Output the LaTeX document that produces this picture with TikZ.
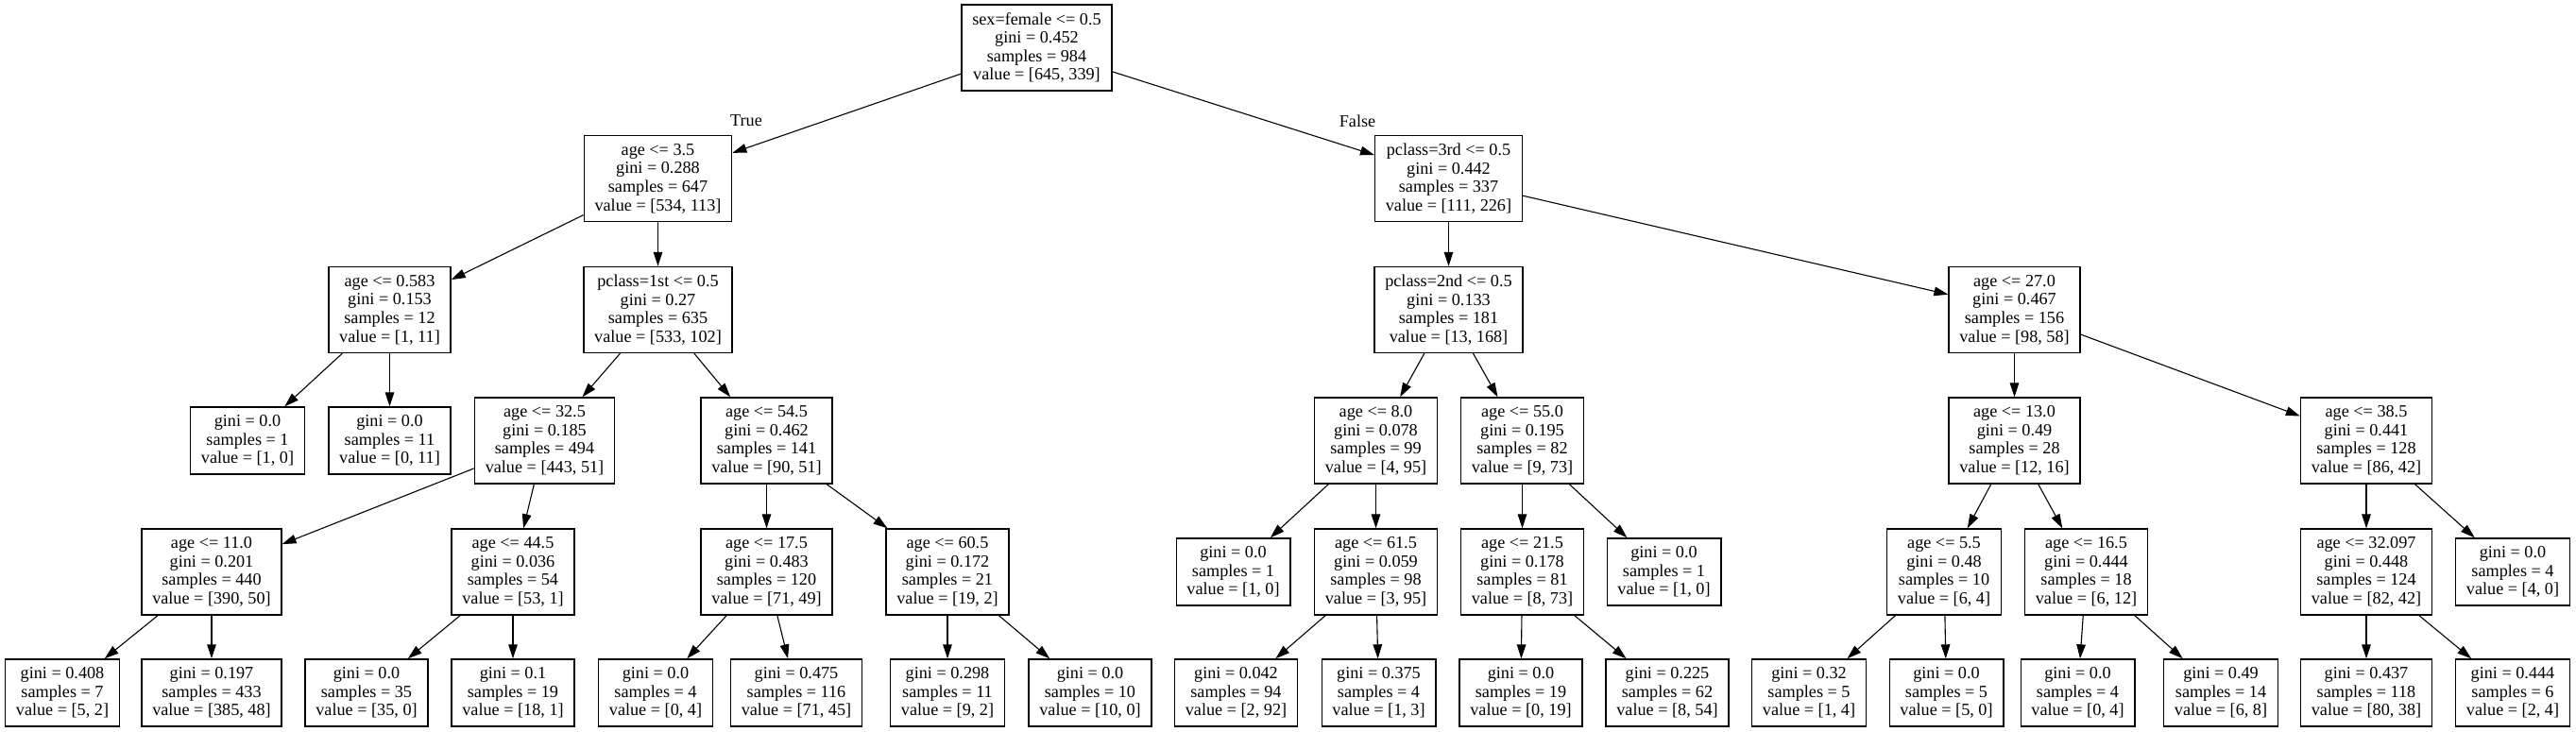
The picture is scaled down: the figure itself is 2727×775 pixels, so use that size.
\documentclass[tikz,border=0pt]{standalone}
\usepackage{fontspec}
\setmainfont{Liberation Serif}
\usepackage{tikz}
\usetikzlibrary{arrows.meta}

\begin{document}
\begin{tikzpicture}[
  x=0.5pt, y=-0.5pt,
  box/.style={rectangle, draw=black, line width=0.7pt, fill=white,
              inner xsep=5.6pt, inner ysep=0pt,
              minimum height=45.5pt, align=center,
              font=\fontsize{9.1}{9.8}\selectfont},
  leaf/.style={box, minimum height=35.5pt},
  lbl/.style={font=\fontsize{9.1}{9.8}\selectfont, inner sep=0pt},
  arr/.style={-{Triangle[length=7.5pt, width=4.8pt]}, line width=0.55pt}
]
  \useasboundingbox (0,0) rectangle (2727,775);

  \node[box] (root) at (1097.5,50.5)
    {sex=female <= 0.5\\gini = 0.452\\samples = 984\\value = [645, 339]};

  \node[box] (age35) at (696.5,189)
    {age <= 3.5\\gini = 0.288\\samples = 647\\value = [534, 113]};
  \node[box] (pcls3) at (1533.5,189)
    {pclass=3rd <= 0.5\\gini = 0.442\\samples = 337\\value = [111, 226]};

  \node[box] (age0583) at (412.5,328)
    {age <= 0.583\\gini = 0.153\\samples = 12\\value = [1, 11]};
  \node[box] (pcls1) at (696.5,328)
    {pclass=1st <= 0.5\\gini = 0.27\\samples = 635\\value = [533, 102]};
  \node[box] (pcls2) at (1533.5,328)
    {pclass=2nd <= 0.5\\gini = 0.133\\samples = 181\\value = [13, 168]};
  \node[box] (age270) at (2132.5,328)
    {age <= 27.0\\gini = 0.467\\samples = 156\\value = [98, 58]};

  \node[leaf] (l0583a) at (262,466.5)
    {gini = 0.0\\samples = 1\\value = [1, 0]};
  \node[leaf] (l0583b) at (412.5,466.5)
    {gini = 0.0\\samples = 11\\value = [0, 11]};
  \node[box] (age325) at (576.5,466.5)
    {age <= 32.5\\gini = 0.185\\samples = 494\\value = [443, 51]};
  \node[box] (age545) at (811.5,466.5)
    {age <= 54.5\\gini = 0.462\\samples = 141\\value = [90, 51]};
  \node[box] (age80) at (1456.5,466.5)
    {age <= 8.0\\gini = 0.078\\samples = 99\\value = [4, 95]};
  \node[box] (age550) at (1611.5,466.5)
    {age <= 55.0\\gini = 0.195\\samples = 82\\value = [9, 73]};
  \node[box] (age130) at (2132.5,466.5)
    {age <= 13.0\\gini = 0.49\\samples = 28\\value = [12, 16]};
  \node[box] (age385) at (2505,466.5)
    {age <= 38.5\\gini = 0.441\\samples = 128\\value = [86, 42]};

  \node[box] (age110) at (224,605.5)
    {age <= 11.0\\gini = 0.201\\samples = 440\\value = [390, 50]};
  \node[box] (age445) at (543,605.5)
    {age <= 44.5\\gini = 0.036\\samples = 54\\value = [53, 1]};
  \node[box] (age175) at (811.5,605.5)
    {age <= 17.5\\gini = 0.483\\samples = 120\\value = [71, 49]};
  \node[box] (age605) at (1003,605.5)
    {age <= 60.5\\gini = 0.172\\samples = 21\\value = [19, 2]};
  \node[leaf] (l80a) at (1305.5,605.5)
    {gini = 0.0\\samples = 1\\value = [1, 0]};
  \node[box] (age615) at (1456.5,605.5)
    {age <= 61.5\\gini = 0.059\\samples = 98\\value = [3, 95]};
  \node[box] (age215) at (1611.5,605.5)
    {age <= 21.5\\gini = 0.178\\samples = 81\\value = [8, 73]};
  \node[leaf] (l550b) at (1761.5,605.5)
    {gini = 0.0\\samples = 1\\value = [1, 0]};
  \node[box] (age55) at (2058,605.5)
    {age <= 5.5\\gini = 0.48\\samples = 10\\value = [6, 4]};
  \node[box] (age165) at (2208.5,605.5)
    {age <= 16.5\\gini = 0.444\\samples = 18\\value = [6, 12]};
  \node[box] (age32097) at (2505,605.5)
    {age <= 32.097\\gini = 0.448\\samples = 124\\value = [82, 42]};
  \node[leaf] (l385b) at (2660,605.5)
    {gini = 0.0\\samples = 4\\value = [4, 0]};

  \node[leaf] (l110a) at (66,733.5)
    {gini = 0.408\\samples = 7\\value = [5, 2]};
  \node[leaf] (l110b) at (224,733.5)
    {gini = 0.197\\samples = 433\\value = [385, 48]};
  \node[leaf] (l445a) at (388,733.5)
    {gini = 0.0\\samples = 35\\value = [35, 0]};
  \node[leaf] (l445b) at (543,733.5)
    {gini = 0.1\\samples = 19\\value = [18, 1]};
  \node[leaf] (l175a) at (694,733.5)
    {gini = 0.0\\samples = 4\\value = [0, 4]};
  \node[leaf] (l175b) at (843,733.5)
    {gini = 0.475\\samples = 116\\value = [71, 45]};
  \node[leaf] (l605a) at (1003,733.5)
    {gini = 0.298\\samples = 11\\value = [9, 2]};
  \node[leaf] (l605b) at (1154,733.5)
    {gini = 0.0\\samples = 10\\value = [10, 0]};
  \node[leaf] (l615a) at (1308.5,733.5)
    {gini = 0.042\\samples = 94\\value = [2, 92]};
  \node[leaf] (l615b) at (1459.5,733.5)
    {gini = 0.375\\samples = 4\\value = [1, 3]};
  \node[leaf] (l215a) at (1610,733.5)
    {gini = 0.0\\samples = 19\\value = [0, 19]};
  \node[leaf] (l215b) at (1765,733.5)
    {gini = 0.225\\samples = 62\\value = [8, 54]};
  \node[leaf] (l55a) at (1915,733.5)
    {gini = 0.32\\samples = 5\\value = [1, 4]};
  \node[leaf] (l55b) at (2060.5,733.5)
    {gini = 0.0\\samples = 5\\value = [5, 0]};
  \node[leaf] (l165a) at (2199.5,733.5)
    {gini = 0.0\\samples = 4\\value = [0, 4]};
  \node[leaf] (l165b) at (2351,733.5)
    {gini = 0.49\\samples = 14\\value = [6, 8]};
  \node[leaf] (l32097a) at (2505,733.5)
    {gini = 0.437\\samples = 118\\value = [80, 38]};
  \node[leaf] (l32097b) at (2660,733.5)
    {gini = 0.444\\samples = 6\\value = [2, 4]};

  \node[lbl] (truelbl) at (790,128) {True};
  \node[lbl] (falselbl) at (1437,128) {False};

  \draw[arr] (root) -- (age35);
  \draw[arr] (root) -- (pcls3);
  \draw[arr] (age35) -- (age0583);
  \draw[arr] (age35) -- (pcls1);
  \draw[arr] (age0583) -- (l0583a);
  \draw[arr] (age0583) -- (l0583b);
  \draw[arr] (pcls1) -- (age325);
  \draw[arr] (pcls1) -- (age545);
  \draw[arr] (age325) -- (age110);
  \draw[arr] (age325) -- (age445);
  \draw[arr] (age110) -- (l110a);
  \draw[arr] (age110) -- (l110b);
  \draw[arr] (age445) -- (l445a);
  \draw[arr] (age445) -- (l445b);
  \draw[arr] (age545) -- (age175);
  \draw[arr] (age545) -- (age605);
  \draw[arr] (age175) -- (l175a);
  \draw[arr] (age175) -- (l175b);
  \draw[arr] (age605) -- (l605a);
  \draw[arr] (age605) -- (l605b);
  \draw[arr] (pcls3) -- (pcls2);
  \draw[arr] (pcls3) -- (age270);
  \draw[arr] (pcls2) -- (age80);
  \draw[arr] (pcls2) -- (age550);
  \draw[arr] (age80) -- (l80a);
  \draw[arr] (age80) -- (age615);
  \draw[arr] (age615) -- (l615a);
  \draw[arr] (age615) -- (l615b);
  \draw[arr] (age550) -- (age215);
  \draw[arr] (age550) -- (l550b);
  \draw[arr] (age215) -- (l215a);
  \draw[arr] (age215) -- (l215b);
  \draw[arr] (age270) -- (age130);
  \draw[arr] (age270) -- (age385);
  \draw[arr] (age130) -- (age55);
  \draw[arr] (age130) -- (age165);
  \draw[arr] (age55) -- (l55a);
  \draw[arr] (age55) -- (l55b);
  \draw[arr] (age165) -- (l165a);
  \draw[arr] (age165) -- (l165b);
  \draw[arr] (age385) -- (age32097);
  \draw[arr] (age385) -- (l385b);
  \draw[arr] (age32097) -- (l32097a);
  \draw[arr] (age32097) -- (l32097b);
\end{tikzpicture}
\end{document}
